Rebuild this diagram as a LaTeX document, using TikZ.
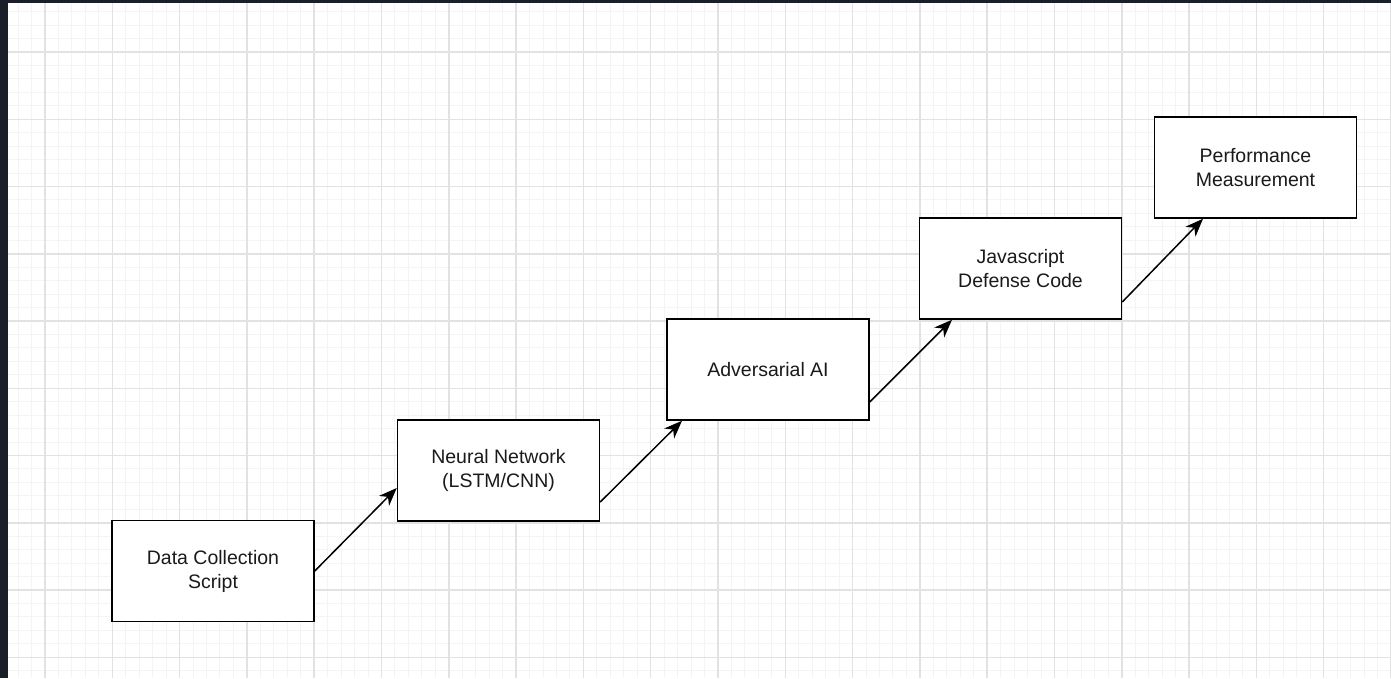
\documentclass[tikz,border=0pt]{standalone}
\usepackage{fontspec}
\setmainfont{Liberation Sans}
\usetikzlibrary{arrows.meta}
\definecolor{frame}{HTML}{1B1F2A}
\definecolor{minorgrid}{HTML}{F4F4F4}
\definecolor{majorgrid}{HTML}{E2E2E2}
\definecolor{txt}{HTML}{1A1A1A}
\tikzset{
  box/.style={draw=black, line width=1.5pt, fill=white, minimum width=202pt, minimum height=101pt,
    inner sep=0pt, align=center, text=txt, font=\fontsize{19.5pt}{24pt}\selectfont},
  conn/.style={line width=1.5pt, -{Stealth[length=18pt,width=14pt,inset=5.5pt]}},
  minorline/.style={draw=minorgrid, line width=1pt},
  majorline/.style={draw=majorgrid, line width=1.5pt}
}
\begin{document}
\begin{tikzpicture}[x=1pt,y=-1pt]
\useasboundingbox (0,0) rectangle (1391,678);
\fill[frame] (0,0) rectangle (1391,678);
\fill[white] (8,3) rectangle (1391,678);
\begin{scope}
\clip (8,3) rectangle (1391,678);
\foreach \i in {-3,...,101} {
  \pgfmathsetmacro{\xx}{45+\i*13.46}
  \draw[minorline] (\xx,0) -- (\xx,678);
}
\foreach \j in {-4,...,47} {
  \pgfmathsetmacro{\yy}{52+\j*13.45}
  \draw[minorline] (0,\yy) -- (1391,\yy);
}
\foreach \i in {0,...,20} {
  \pgfmathsetmacro{\xx}{45+\i*67.3}
  \draw[majorline] (\xx,0) -- (\xx,678);
}
\foreach \j in {-1,...,9} {
  \pgfmathsetmacro{\yy}{52+\j*67.25}
  \draw[majorline] (0,\yy) -- (1391,\yy);
}
\end{scope}

\node[box] (dc) at (213,571) {Data Collection\\Script};
\node[box] (nn) at (498.5,470.5) {Neural Network\\(LSTM/CNN)};
\node[box] (adv) at (768,369.5) {Adversarial AI};
\node[box] (js) at (1020.5,268.5) {Javascript\\Defense Code};
\node[box] (perf) at (1255.5,167.5) {Performance\\Measurement};

\draw[conn] (dc.east) -- ([yshift=-17.5pt]nn.west);
\draw[conn] ([yshift=-31.5pt]nn.east) -- ([xshift=-86pt]adv.south);
\draw[conn] ([yshift=-32.5pt]adv.east) -- ([xshift=-68.5pt]js.south);
\draw[conn] ([yshift=-33.5pt]js.east) -- ([xshift=-52.5pt]perf.south);
\end{tikzpicture}
\end{document}
